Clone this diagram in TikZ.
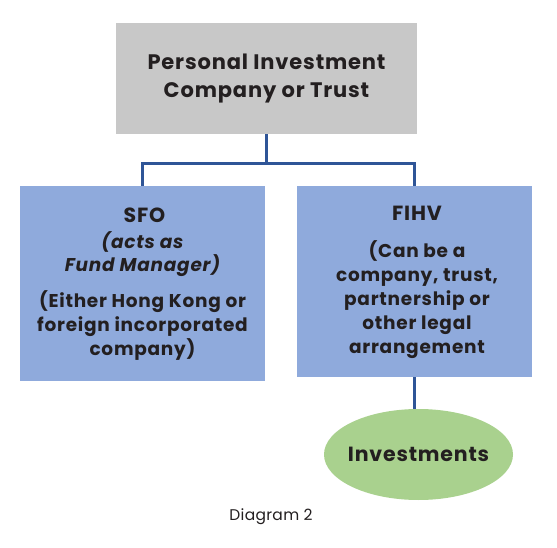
\documentclass[tikz,border=0pt]{standalone}
\usepackage{fontspec}
\setmainfont{Poppins}[LetterSpace=4]
\usetikzlibrary{positioning, shapes.geometric}

\definecolor{boxgray}{HTML}{C8C8C8}
\definecolor{boxblue}{HTML}{8FAADC}
\definecolor{boxgreen}{HTML}{A9D18E}
\definecolor{linkblue}{HTML}{2F5597}
\definecolor{textdark}{HTML}{231F20}

\begin{document}
\begin{tikzpicture}[x=1pt, y=-1pt,
    box/.style={rectangle, inner sep=0pt, align=center, text=textdark, font=\bfseries},
    link/.style={linkblue, line width=3pt}]
    \useasboundingbox (0,0) rectangle (557,548);

    \node[box, fill=boxgray, minimum width=301pt, minimum height=111pt,
          font=\fontsize{21}{28}\selectfont\bfseries] (owner) at (266.5,78.5)
          {Personal Investment\\Company or Trust};

    \node[box, fill=boxblue, minimum width=245pt, minimum height=195pt] (sfo) at (142.5,283.5) {};
    \node[box, fill=boxblue, minimum width=235pt, minimum height=191pt] (fihv) at (414.5,281.5) {};

    \node[box, font=\fontsize{20.5}{24}\selectfont\bfseries] (sfoname) at (144.5,215) {SFO};
    \node[box, font=\fontsize{18.5}{23}\selectfont\bfseries\itshape] (sforole) at (142.5,254.5) {(acts as\\Fund Manager)};
    \node[box, font=\fontsize{18.5}{24}\selectfont\bfseries] (sfonote) at (142.5,326) {(Either Hong Kong or\\foreign incorporated\\company)};

    \node[box, font=\fontsize{20.5}{24}\selectfont\bfseries] (fihvname) at (417,213) {FIHV};
    \node[box, font=\fontsize{18.5}{24}\selectfont\bfseries] (fihvnote) at (417,300) {(Can be a\\company, trust,\\partnership or\\other legal\\arrangement};

    \node[ellipse, fill=boxgreen, inner xsep=-14pt, inner ysep=0pt, minimum width=189pt, minimum height=91pt,
          text=textdark, font=\fontsize{20.5}{24}\selectfont\bfseries] (invest) at (418.5,454.5) {Investments};

    \node[font=\fontsize{15.5}{18}\selectfont\addfontfeature{LetterSpace=2}, text=textdark] (caption) at (271,517) {Diagram 2};

    % connectors
    \draw[link] (owner.south) -- ++(0,29) coordinate (split);
    \draw[link] (sfo.north) |- (split) -| (fihv.north);
    \draw[link] (fihv.south) -- (fihv.south |- invest.north);
\end{tikzpicture}
\end{document}
